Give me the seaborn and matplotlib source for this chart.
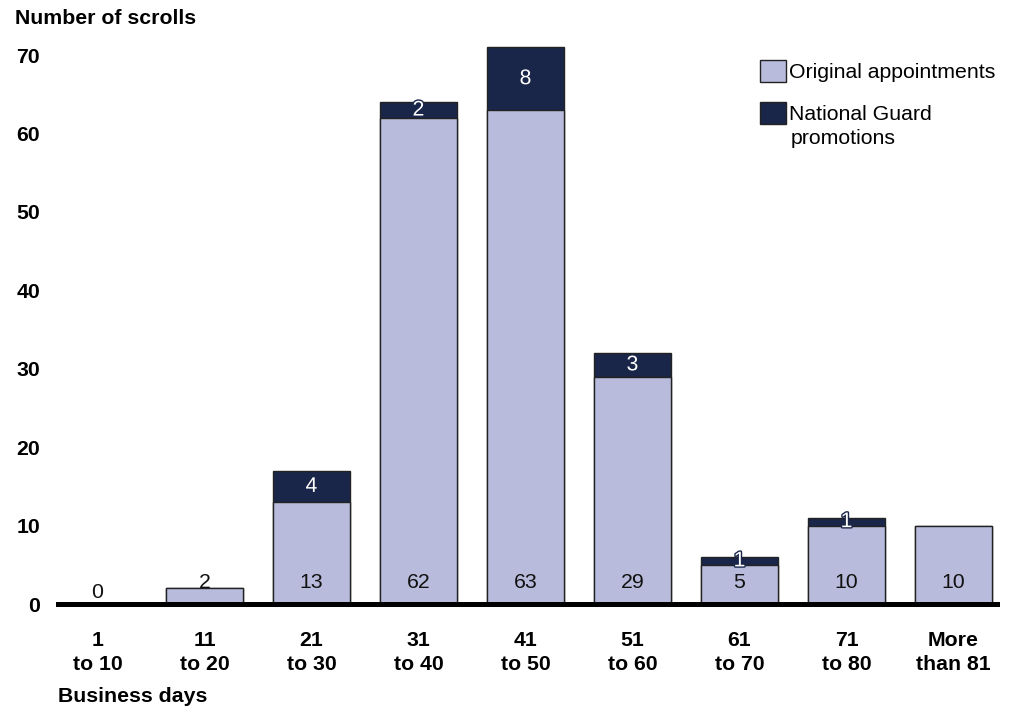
import matplotlib
matplotlib.use("Agg")
import matplotlib.pyplot as plt
import matplotlib.patheffects as pe
from matplotlib.patches import Patch
import seaborn as sns
import pandas as pd

categories = ["1\nto 10", "11\nto 20", "21\nto 30", "31\nto 40", "41\nto 50",
              "51\nto 60", "61\nto 70", "71\nto 80", "More\nthan 81"]
original = [0, 2, 13, 62, 63, 29, 5, 10, 10]
guard = [0, 0, 4, 2, 8, 3, 1, 1, 0]
yticks = [0, 10, 20, 30, 40, 50, 60, 70]

LIGHT = "#b8bbdb"
DARK = "#1a2649"
EDGE = "#222222"
FS = 15.3

sns.set_style("white")
plt.rcParams["font.family"] = ["Liberation Sans", "DejaVu Sans"]
plt.rcParams["text.color"] = "black"

df = pd.DataFrame({"cat": categories, "orig": original, "guard": guard})
df["total"] = df["orig"] + df["guard"]

fig = plt.figure(figsize=(10.17, 7.09), dpi=100)
ax = fig.add_axes([58 / 1017, 105 / 709, 939 / 1017, 564.5 / 709])

sns.barplot(data=df, x="cat", y="total", color=DARK, width=0.72, ax=ax,
            edgecolor=EDGE, linewidth=1, saturation=1, order=categories)
sns.barplot(data=df, x="cat", y="orig", color=LIGHT, width=0.72, ax=ax,
            edgecolor=EDGE, linewidth=1, saturation=1, order=categories)

ax.set_xlim(-0.369, 8.407)
ax.set_ylim(0, 72)
ax.set_yticks(yticks)
ax.set_yticklabels([str(v) for v in yticks], fontsize=FS, fontweight="bold",
                   color="black")
ax.set_xticks(range(len(categories)))
ax.set_xticklabels(categories, fontsize=FS, fontweight="bold", linespacing=1.35,
                   color="black")
ax.tick_params(axis="y", length=0, pad=13)
ax.tick_params(axis="x", length=0, pad=19.5)
ax.set_xlabel("")
ax.set_ylabel("")
for s in ["top", "right", "left"]:
    ax.spines[s].set_visible(False)
ax.spines["bottom"].set_linewidth(3.6)
ax.spines["bottom"].set_color("black")
ax.spines["bottom"].set_zorder(5)

# value labels
for i, (o, g) in enumerate(zip(original, guard)):
    ypos = 1.5 if o == 0 else 2.8
    ax.text(i, ypos, str(o), ha="center", va="center", fontsize=FS, color="#111111")
    if g > 0:
        t = ax.text(i, o + g / 2, str(g), ha="center", va="center", fontsize=FS,
                    color="white", zorder=6)
        t.set_path_effects([pe.withStroke(linewidth=2, foreground=DARK)])

handles = [Patch(facecolor=LIGHT, edgecolor=EDGE, linewidth=1),
           Patch(facecolor=DARK, edgecolor=EDGE, linewidth=1)]
leg = fig.legend(handles, ["Original appointments", "National Guard"],
                 loc="upper left", bbox_to_anchor=(760 / 1017, 1 - 60 / 709),
                 frameon=False, fontsize=FS, handlelength=1.2, handleheight=1.2,
                 handletextpad=0.15, borderpad=0, borderaxespad=0, labelspacing=0.93)
fig.text(791 / 1017, 1 - 139 / 709, "promotions", fontsize=FS,
         ha="left", va="center")

fig.text(15 / 1017, 1 - 18 / 709, "Number of scrolls", fontsize=FS,
         fontweight="bold", ha="left", va="center")
fig.text(58 / 1017, 1 - 697 / 709, "Business days", fontsize=FS,
         fontweight="bold", ha="left", va="center")

fig.savefig("out.png", dpi=100)
